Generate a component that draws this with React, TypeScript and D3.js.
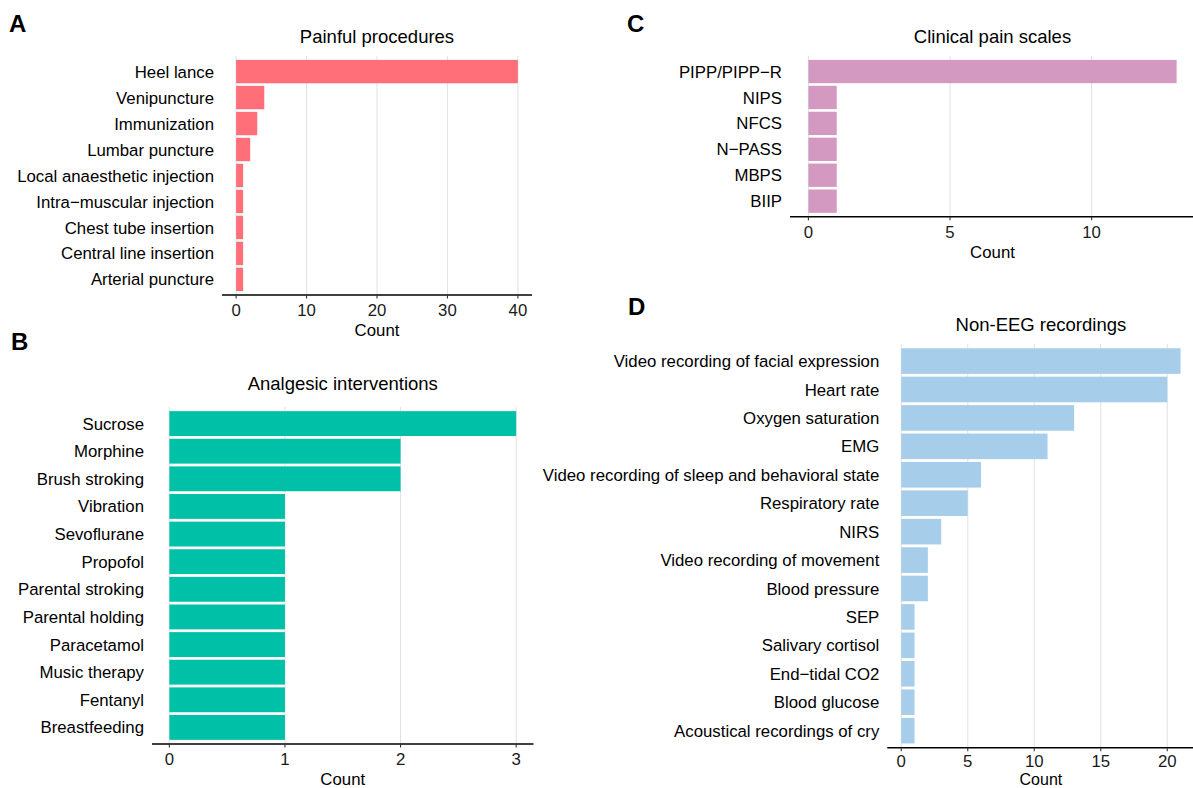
import React from "react";
import * as d3 from "d3";

// Panel A - painful procedures
const procedureNames = [
  "Heel lance",
  "Venipuncture",
  "Immunization",
  "Lumbar puncture",
  "Local anaesthetic injection",
  "Intra\u2212muscular injection",
  "Chest tube insertion",
  "Central line insertion",
  "Arterial puncture",
];
const procedureCounts = [40, 4, 3, 2, 1, 1, 1, 1, 1];
const procedureTicks = [0, 10, 20, 30, 40];

// Panel B - analgesic interventions
const analgesicNames = [
  "Sucrose",
  "Morphine",
  "Brush stroking",
  "Vibration",
  "Sevoflurane",
  "Propofol",
  "Parental stroking",
  "Parental holding",
  "Paracetamol",
  "Music therapy",
  "Fentanyl",
  "Breastfeeding",
];
const analgesicCounts = [3, 2, 2, 1, 1, 1, 1, 1, 1, 1, 1, 1];
const analgesicTicks = [0, 1, 2, 3];

// Panel C - clinical pain scales
const scaleNames = ["PIPP/PIPP\u2212R", "NIPS", "NFCS", "N\u2212PASS", "MBPS", "BIIP"];
const scaleCounts = [13, 1, 1, 1, 1, 1];
const scaleTicks = [0, 5, 10];

// Panel D - non-EEG recordings
const recordingNames = [
  "Video recording of facial expression",
  "Heart rate",
  "Oxygen saturation",
  "EMG",
  "Video recording of sleep and behavioral state",
  "Respiratory rate",
  "NIRS",
  "Video recording of movement",
  "Blood pressure",
  "SEP",
  "Salivary cortisol",
  "End\u2212tidal CO2",
  "Blood glucose",
  "Acoustical recordings of cry",
];
const recordingCounts = [21, 20, 13, 11, 6, 5, 3, 2, 2, 1, 1, 1, 1, 1];
const recordingTicks = [0, 5, 10, 15, 20];

const FONT = "'Liberation Sans', Arial, Helvetica, sans-serif";

type PanelProps = {
  letter: string;
  letterX: number;
  letterY: number;
  title: string;
  names: string[];
  counts: number[];
  ticks: number[];
  color: string;
  left: number;
  right: number;
  top: number;
  bottom: number;
  titleY: number;
  tickY?: number;
  countY?: number;
  countSize?: number;
};

const Panel = ({
  letter, letterX, letterY, title, names, counts, ticks, color,
  left, right, top, bottom, titleY, tickY, countY, countSize,
}: PanelProps) => {
  const maxVal = d3.max(counts) as number;
  // ggplot style 5% expansion on the continuous axis
  const x = d3
    .scaleLinear()
    .domain([-0.05 * maxVal, 1.05 * maxVal])
    .range([left, right]);
  const y = d3
    .scaleBand()
    .domain(names)
    .range([top, bottom])
    .paddingInner(0.1)
    .paddingOuter(0.15);

  return (
    <g fontFamily={FONT}>
      <text x={letterX} y={letterY} fontSize={24} fontWeight="bold" fill="#000">
        {letter}
      </text>
      <text x={(left + right) / 2} y={titleY} fontSize={18.5} textAnchor="middle" fill="#000">
        {title}
      </text>
      {/* grid lines */}
      {ticks.map((t) => (
        <line key={"g" + t} x1={x(t)} x2={x(t)} y1={top} y2={bottom} stroke="#e3e3e3" strokeWidth={1.1} />
      ))}
      {/* bars */}
      {names.map((n, i) => (
        <rect key={n} x={x(0)} y={y(n)} width={x(counts[i]) - x(0)} height={y.bandwidth()} fill={color} />
      ))}
      {/* category labels */}
      {names.map((n) => (
        <text
          key={"l" + n}
          x={left - 8}
          y={(y(n) as number) + y.bandwidth() / 2}
          dy="0.36em"
          textAnchor="end"
          fontSize={16.8}
          fill="#000"
        >
          {n}
        </text>
      ))}
      {/* x axis */}
      <line x1={left} x2={right} y1={bottom} y2={bottom} stroke="#000" strokeWidth={1.6} />
      {ticks.map((t) => (
        <g key={"t" + t}>
          <line x1={x(t)} x2={x(t)} y1={bottom} y2={bottom + 3.5} stroke="#333" strokeWidth={1.1} />
          <text x={x(t)} y={tickY ?? bottom + 21} textAnchor="middle" fontSize={16.8} fill="#1a1a1a">
            {t}
          </text>
        </g>
      ))}
      <text
        x={(left + right) / 2}
        y={countY ?? bottom + 41}
        textAnchor="middle"
        fontSize={countSize ?? 16.8}
        fill="#000"
      >
        Count
      </text>
    </g>
  );
};

export default function App() {
  return (
    <svg
      width={1193}
      height={788}
      style={{ position: "absolute", left: 0, top: 0, background: "#fff" }}
    >
      <rect width={1193} height={788} fill="#fff" />
      <Panel
        letter="A"
        letterX={9}
        letterY={32.3}
        title="Painful procedures"
        names={procedureNames}
        counts={procedureCounts}
        ticks={procedureTicks}
        color="#FF6F7A"
        left={222}
        right={532}
        top={56}
        bottom={295}
        titleY={43.4}
      />
      <Panel
        letter="B"
        letterX={11}
        letterY={350}
        title="Analgesic interventions"
        names={analgesicNames}
        counts={analgesicCounts}
        ticks={analgesicTicks}
        color="#00C1A7"
        left={152}
        right={533.5}
        top={407}
        bottom={744}
        titleY={390}
      />
      <Panel
        letter="C"
        letterX={627}
        letterY={32.3}
        title="Clinical pain scales"
        names={scaleNames}
        counts={scaleCounts}
        ticks={scaleTicks}
        color="#D499C1"
        left={790}
        right={1195}
        top={56}
        bottom={216.7}
        titleY={43.4}
      />
      <Panel
        letter="D"
        letterX={628}
        letterY={315}
        title="Non-EEG recordings"
        names={recordingNames}
        counts={recordingCounts}
        ticks={recordingTicks}
        color="#A6CDE9"
        left={887.3}
        right={1194.5}
        top={344}
        bottom={747.7}
        titleY={330.7}
        tickY={766.5}
        countY={784.5}
        countSize={16}
      />
    </svg>
  );
}
